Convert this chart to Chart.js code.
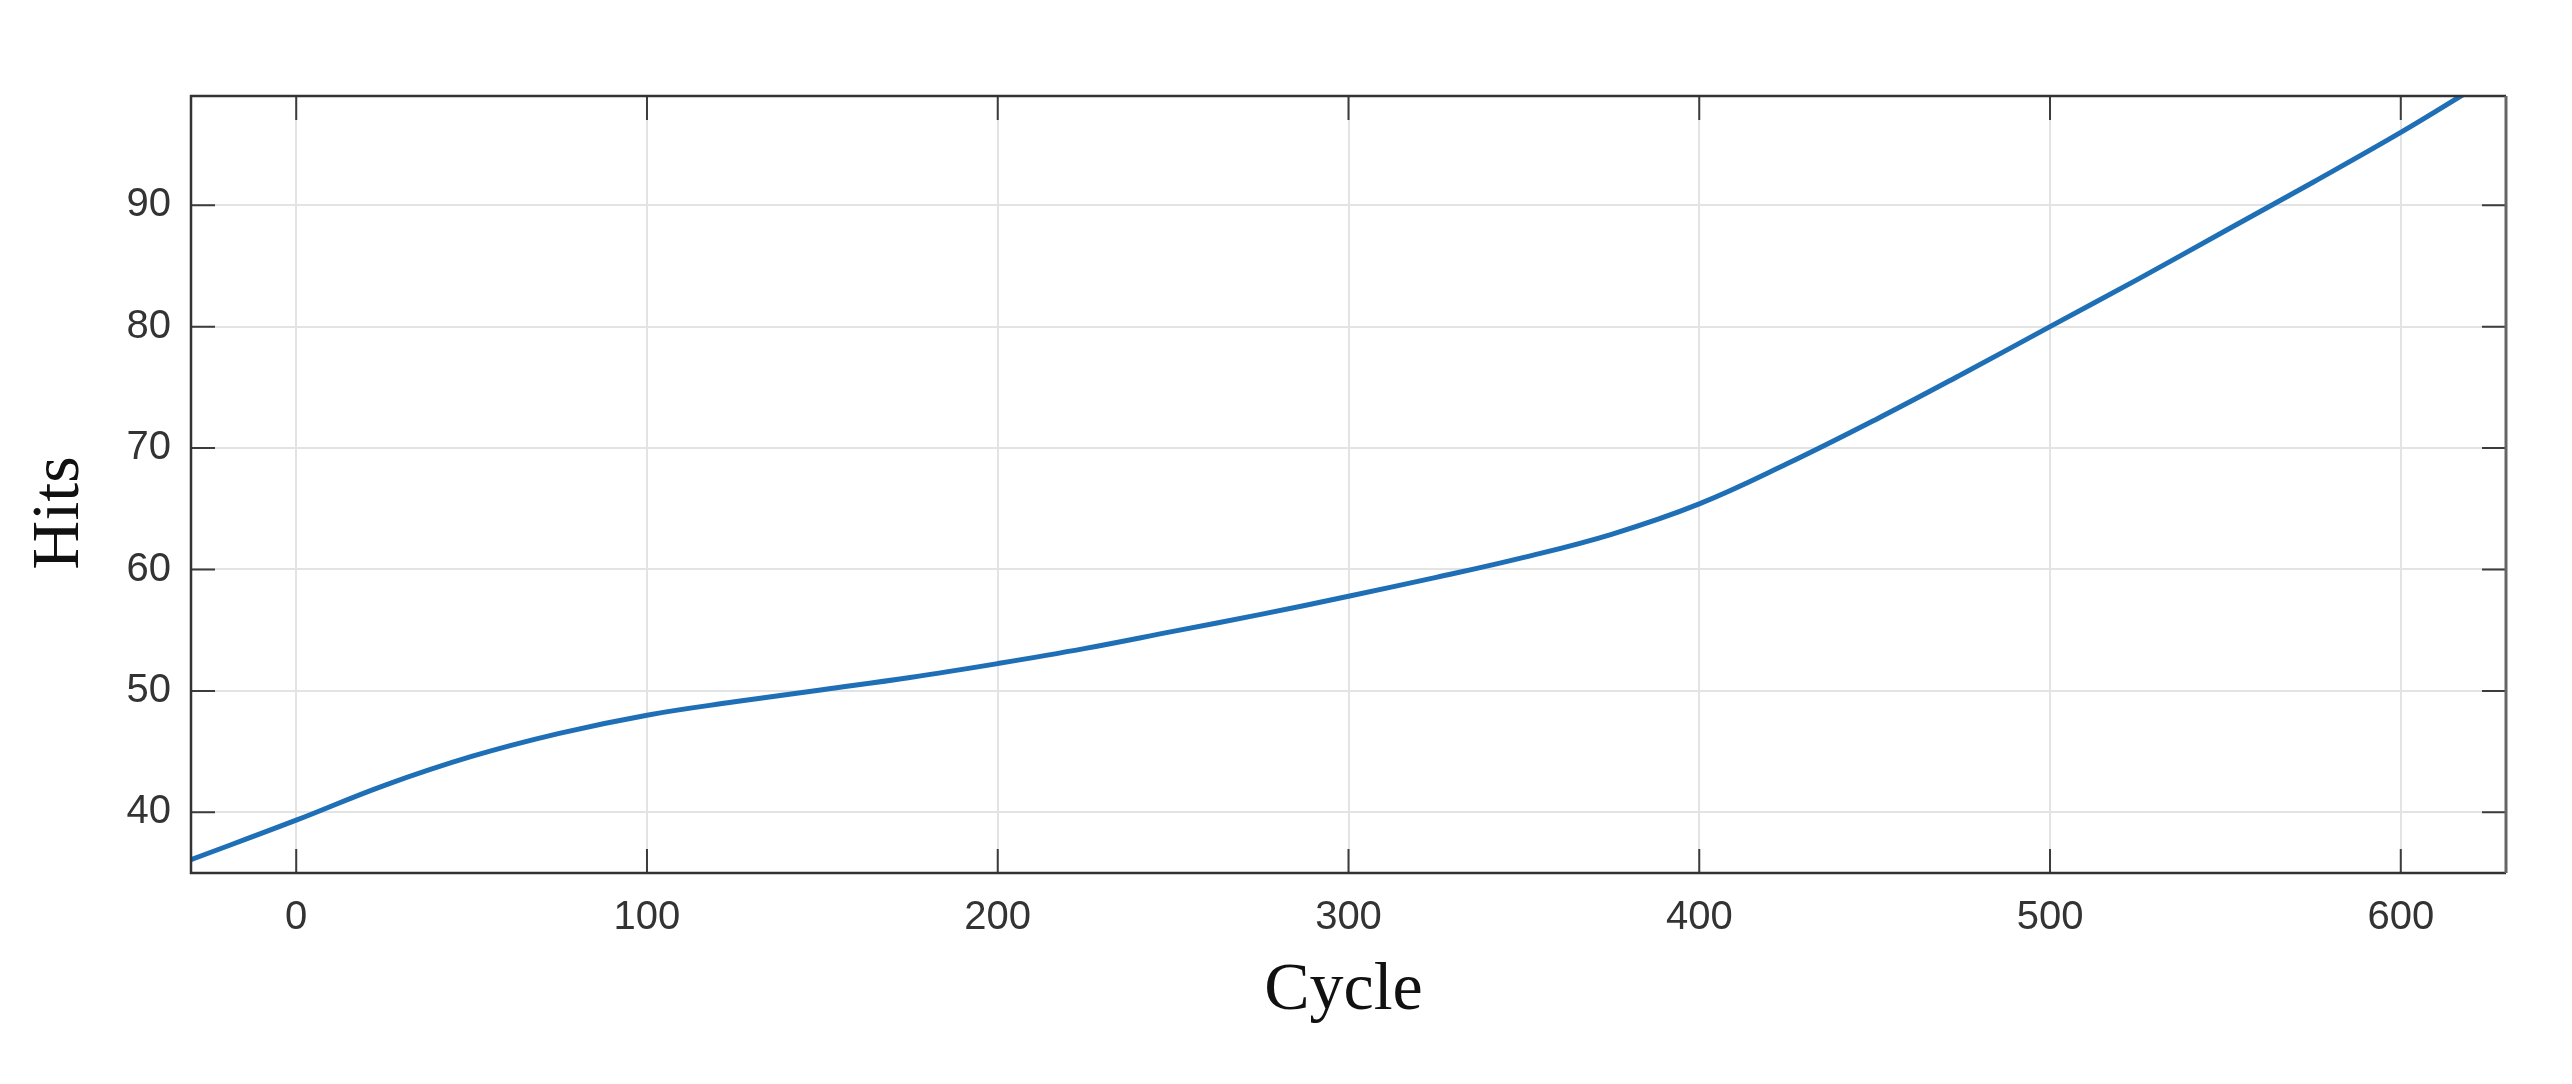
<!DOCTYPE html>
<html>
<head>
<meta charset="utf-8">
<script src="https://cdn.jsdelivr.net/npm/chart.js@4.4.1/dist/chart.umd.min.js"></script>
<style>
  html, body { margin: 0; padding: 0; background: #ffffff; }
  #wrap { width: 2572px; height: 1084px; }
</style>
</head>
<body>
<div id="wrap"><canvas id="c" width="2572" height="1084"></canvas></div>
<script>
// ---- data ----
const cycles = [-30, 0, 25, 50, 75, 100, 125, 150, 175, 200, 225, 250, 275, 300, 325, 350, 375, 400, 425, 450, 475, 500, 525, 550, 575, 600, 620];
const hits   = [36.1, 39.35, 42.2, 44.6, 46.5, 48.0, 49.1, 50.1, 51.1, 52.25, 53.5, 54.9, 56.3, 57.8, 59.35, 61.0, 62.9, 65.4, 68.7, 72.3, 76.1, 80.0, 83.9, 87.9, 91.9, 96.0, 99.5];
const xTicks = [0, 100, 200, 300, 400, 500, 600];
const yTicks = [40, 50, 60, 70, 80, 90];
const xRange = [-30, 630];
const yRange = [35, 99];
const xTitle = 'Cycle';
const yTitle = 'Hits';

const frameAndTitles = {
  id: 'frameAndTitles',
  afterDatasetsDraw(chart) {
    const ctx = chart.ctx;
    const a = chart.chartArea;
    const xs = chart.scales.x, ys = chart.scales.y;
    ctx.save();
    // inward tick marks on all sides
    ctx.strokeStyle = '#3c3c3c';
    ctx.lineWidth = 2;
    const tl = 24;
    ctx.beginPath();
    xTicks.forEach(v => {
      const px = xs.getPixelForValue(v);
      ctx.moveTo(px, a.bottom); ctx.lineTo(px, a.bottom - tl);
      ctx.moveTo(px, a.top); ctx.lineTo(px, a.top + tl);
    });
    yTicks.forEach(v => {
      const py = ys.getPixelForValue(v);
      ctx.moveTo(a.left, py); ctx.lineTo(a.left + tl, py);
      ctx.moveTo(a.right, py); ctx.lineTo(a.right - tl, py);
    });
    ctx.stroke();
    // box
    ctx.strokeStyle = '#333333';
    ctx.lineWidth = 2.5;
    ctx.beginPath();
    ctx.moveTo(a.right, a.top); ctx.lineTo(a.left, a.top); ctx.lineTo(a.left, a.bottom); ctx.lineTo(a.right, a.bottom);
    ctx.stroke();
    ctx.strokeStyle = '#666666';
    ctx.lineWidth = 3;
    ctx.beginPath();
    ctx.moveTo(a.right, a.top); ctx.lineTo(a.right, a.bottom);
    ctx.stroke();
    // axis titles
    ctx.fillStyle = '#111111';
    ctx.font = '68px "Liberation Serif", "Times New Roman", serif';
    ctx.textAlign = 'center';
    ctx.textBaseline = 'alphabetic';
    ctx.fillText(xTitle, (a.left + a.right) / 2 - 5, a.bottom + 136);
    ctx.translate(78, a.top + 417);
    ctx.rotate(-Math.PI / 2);
    ctx.fillText(yTitle, 0, 0);
    ctx.restore();
  }
};

new Chart(document.getElementById('c'), {
  type: 'line',
  data: {
    datasets: [{
      data: cycles.map((c, i) => ({ x: c, y: hits[i] })),
      borderColor: '#1f6fb6',
      borderWidth: 5,
      pointRadius: 0,
      fill: false,
      tension: 0.4,
      clip: 0
    }]
  },
  options: {
    responsive: false,
    animation: false,
    devicePixelRatio: 1,
    layout: { padding: { left: 0, right: 66, top: 96, bottom: 0 } },
    plugins: { legend: { display: false }, tooltip: { enabled: false } },
    scales: {
      x: {
        type: 'linear',
        min: xRange[0], max: xRange[1],
        afterBuildTicks: s => { s.ticks = xTicks.map(v => ({ value: v })); },
        afterFit: s => { s.height = 211; },
        grid: { color: '#e3e3e3', lineWidth: 2, drawTicks: false },
        border: { display: false },
        ticks: {
          padding: 21,
          color: '#333333',
          font: { family: '"Liberation Sans", Arial, sans-serif', size: 40 },
          maxRotation: 0,
          callback: v => String(v)
        }
      },
      y: {
        type: 'linear',
        min: yRange[0], max: yRange[1],
        afterBuildTicks: s => { s.ticks = yTicks.map(v => ({ value: v })); },
        afterFit: s => { s.width = 191; },
        grid: { color: '#e3e3e3', lineWidth: 2, drawTicks: false },
        border: { display: false },
        ticks: {
          padding: 20,
          color: '#333333',
          font: { family: '"Liberation Sans", Arial, sans-serif', size: 40 },
          callback: v => String(v)
        }
      }
    }
  },
  plugins: [frameAndTitles]
});
</script>
</body>
</html>
